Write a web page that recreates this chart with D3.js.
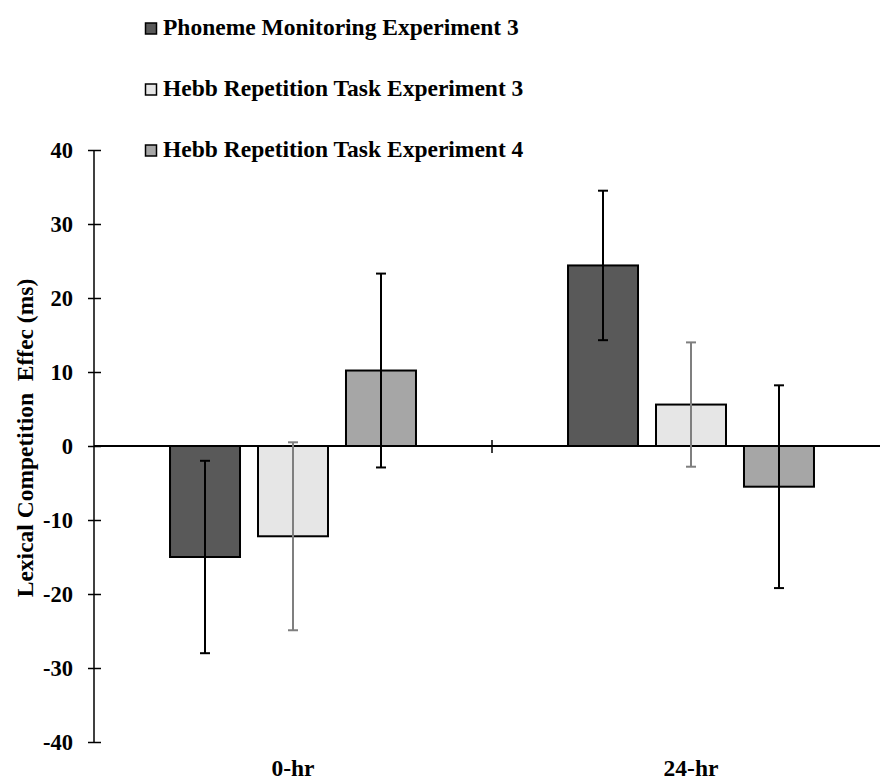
<!DOCTYPE html>
<html><head><meta charset="utf-8">
<script src="https://cdn.jsdelivr.net/npm/d3@7"></script>
<style>
html,body{margin:0;padding:0;background:#fff;}
svg{display:block;}
text{font-family:"Liberation Serif","Times New Roman",serif;font-weight:bold;fill:#000;}
</style></head>
<body>
<script>
const categories = ["0-hr", "24-hr"];
const seriesNames = ["Phoneme Monitoring Experiment 3", "Hebb Repetition Task Experiment 3", "Hebb Repetition Task Experiment 4"];
const phonemeExp3 = [-15.0, 24.4];
const phonemeExp3Err = [13.0, 10.1];
const hebbExp3 = [-12.2, 5.6];
const hebbExp3Err = [12.7, 8.4];
const hebbExp4 = [10.2, -5.5];
const hebbExp4Err = [13.1, 13.7];
const yTicks = [-40, -30, -20, -10, 0, 10, 20, 30, 40];
const yTitle = "Lexical Competition  Effec (ms)";

const fills = ["#595959", "#e6e6e6", "#a6a6a6"];
const errColors = ["#000", "#7f7f7f", "#000"];
const values = [phonemeExp3, hebbExp3, hebbExp4];
const errs = [phonemeExp3Err, hebbExp3Err, hebbExp4Err];

const W = 883, H = 781;
const svg = d3.select("body").append("svg").attr("width", W).attr("height", H);

const y = d3.scaleLinear().domain([-40, 40]).range([742, 150]);
const x0 = d3.scaleBand().domain(categories).range([94, 890]);
const x1 = d3.scaleBand().domain(d3.range(3)).range([0, x0.bandwidth()]).paddingInner(0.2045).paddingOuter(0.864);

// bars
categories.forEach((c, ci) => {
  const g = svg.append("g").attr("transform", `translate(${x0(c)},0)`);
  values.forEach((vals, si) => {
    const v = vals[ci];
    g.append("rect")
      .attr("x", x1(si))
      .attr("y", y(Math.max(0, v)))
      .attr("width", x1.bandwidth())
      .attr("height", Math.abs(y(v) - y(0)))
      .attr("fill", fills[si])
      .attr("stroke", "#000")
      .attr("stroke-width", 2);
  });
});

// x axis line
svg.append("line").attr("x1", 94).attr("x2", 880).attr("y1", y(0)).attr("y2", y(0))
  .attr("stroke", "#000").attr("stroke-width", 2);
// boundary tick between categories
svg.append("line").attr("x1", x0("24-hr")).attr("x2", x0("24-hr"))
  .attr("y1", y(0) - 6).attr("y2", y(0) + 7).attr("stroke", "#000").attr("stroke-width", 1.5);

// error bars
categories.forEach((c, ci) => {
  const g = svg.append("g").attr("transform", `translate(${x0(c)},0)`);
  values.forEach((vals, si) => {
    const v = vals[ci], e = errs[si][ci];
    const cx = x1(si) + x1.bandwidth() / 2;
    const col = errColors[si];
    g.append("line").attr("x1", cx).attr("x2", cx).attr("y1", y(v + e)).attr("y2", y(v - e))
      .attr("stroke", col).attr("stroke-width", 2);
    [v + e, v - e].forEach(t => {
      g.append("line").attr("x1", cx - 5).attr("x2", cx + 5).attr("y1", y(t)).attr("y2", y(t))
        .attr("stroke", col).attr("stroke-width", 2);
    });
  });
});

// y axis
const yAxis = d3.axisLeft(y).tickValues(yTicks).tickFormat(d => String(d)).tickSize(0).tickPadding(0);
const ya = svg.append("g").attr("transform", "translate(94,0)").call(yAxis);
ya.select(".domain").remove();
ya.append("line").attr("x1", 0).attr("x2", 0).attr("y1", y(40)).attr("y2", y(-40)).attr("stroke", "#000").attr("stroke-width", 1.5);
ya.selectAll(".tick").append("line").attr("x1", -6).attr("x2", 7).attr("stroke", "#000").attr("stroke-width", 1.5);
ya.selectAll(".tick text").attr("x", -21).attr("dy", "0.34em")
  .style("font-family", '"Liberation Serif", serif').style("font-weight", "bold").style("font-size", "22.5px").attr("fill", "#000");

// category labels
svg.selectAll(".cat").data(categories).enter().append("text")
  .attr("x", d => x0(d) + x0.bandwidth() / 2).attr("y", 776)
  .attr("text-anchor", "middle").style("font-size", "23.5px").text(d => d);

// y title
svg.append("text").attr("transform", "translate(33,438) rotate(-90)")
  .attr("text-anchor", "middle").style("font-size", "23.5px").style("white-space", "pre")
  .attr("xml:space", "preserve").text(yTitle);

// legend
const legendY = [35, 96, 157];
seriesNames.forEach((n, i) => {
  svg.append("rect").attr("x", 145.5).attr("y", legendY[i] - 12).attr("width", 11).attr("height", 11)
    .attr("fill", fills[i]).attr("stroke", "#000").attr("stroke-width", 1.5);
  svg.append("text").attr("x", 163).attr("y", legendY[i]).style("font-size", "23.5px").text(n);
});
</script>
</body></html>
